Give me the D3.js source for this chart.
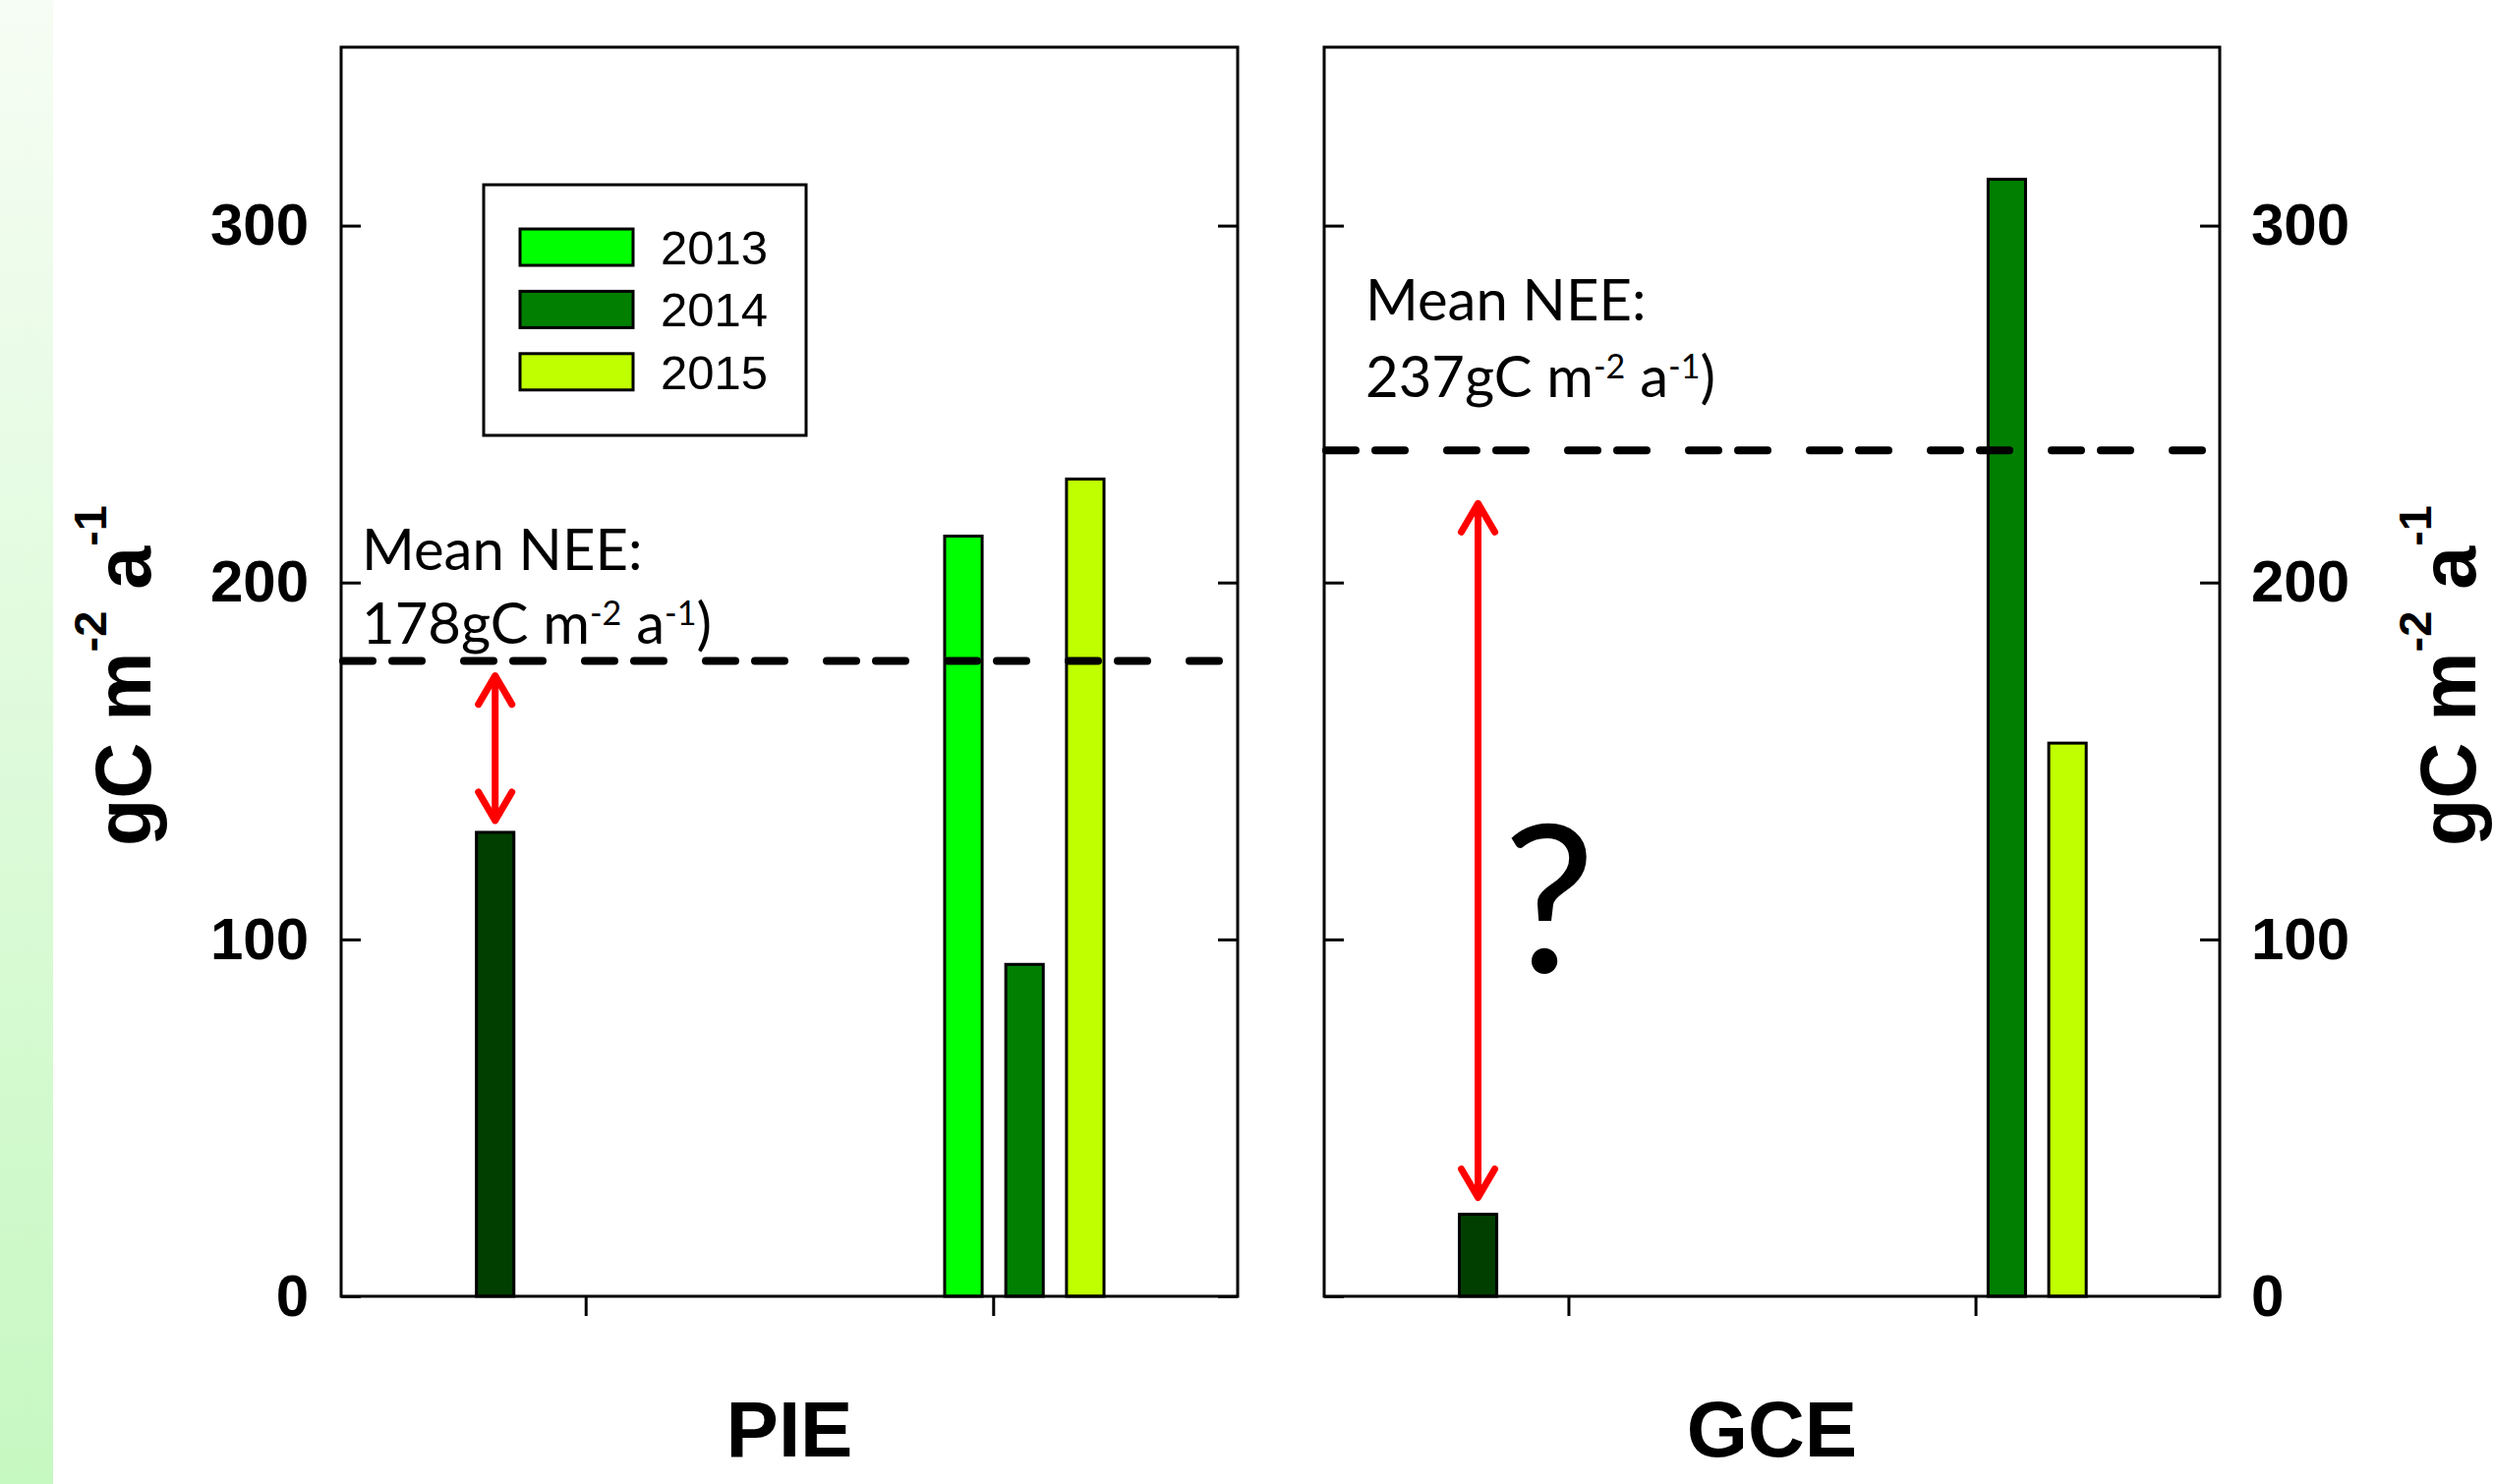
<!DOCTYPE html>
<html><head><meta charset="utf-8">
<script src="https://cdn.jsdelivr.net/npm/d3@7"></script>
<style>html,body{margin:0;padding:0;background:#fff;} svg{display:block;}</style>
</head><body>
<svg id="chart" width="2537" height="1510"></svg>
<script>
// ---- data -------------------------------------------------------------
const sites = ["PIE", "GCE"];
const years = ["2013", "2014", "2015"];
// annual NEE by year for each site (null = no value)
const nee2013 = [213, null];
const nee2014 = [93, 313];
const nee2015 = [229, 155];
// single estimate shown on the left of each panel
const estimate = [130, 23];
// multi-year mean NEE per site
const meanNEE = [178, 237];
const meanLabel = ["178", "237"];
const yTicks = [0, 100, 200, 300];

// ---- styling / layout -------------------------------------------------
const yearColors = ["#00ff00", "#007f00", "#bfff00"];
const estimateColor = "#003f00";
const W = 2537, H = 1510;
const plotTop = 48, plotBottom = 1319;
const panels = [
  {x0: 347, x1: 1259, textX: 368, textY: 580, lineGap: 75, arrowTopGap: 12, arrowBottomGap: 9},
  {x0: 1347, x1: 2258, textX: 1389, textY: 326, lineGap: 78, arrowTopGap: 51, arrowBottomGap: 14}
];
const estimatePos = -0.222;
const yearPos = [0.927, 1.077, 1.226];
const barW = 0.092;

const svg = d3.select("#chart");

// light green strip along the left edge
const defs = svg.append("defs");
const grad = defs.append("linearGradient").attr("id", "strip")
  .attr("x1", 0).attr("y1", 0).attr("x2", 0).attr("y2", 1);
grad.append("stop").attr("offset", "0%").attr("stop-color", "#f6fdf4");
grad.append("stop").attr("offset", "100%").attr("stop-color", "#c6f8c1");
svg.append("rect").attr("x", 0).attr("y", 0).attr("width", 54).attr("height", H)
  .attr("fill", "url(#strip)");

const y = d3.scaleLinear().domain([0, 350]).range([plotBottom, plotTop]);
const yearSeries = [nee2013, nee2014, nee2015];

const tickFont = "'Liberation Sans', Arial, sans-serif";
const noteFont = "Lato, 'Open Sans', sans-serif";

panels.forEach((p, i) => {
  const x = d3.scaleLinear().domain([-0.6, 1.6]).range([p.x0, p.x1]);
  const g = svg.append("g");

  // bars
  const bars = [{v: estimate[i], pos: estimatePos, color: estimateColor}];
  yearSeries.forEach((s, k) => {
    if (s[i] != null) bars.push({v: s[i], pos: yearPos[k], color: yearColors[k]});
  });
  g.selectAll("rect.bar").data(bars).enter().append("rect")
    .attr("class", "bar")
    .attr("x", d => x(d.pos - barW / 2))
    .attr("width", d => x(d.pos + barW / 2) - x(d.pos - barW / 2))
    .attr("y", d => y(d.v))
    .attr("height", d => y(0) - y(d.v))
    .attr("fill", d => d.color)
    .attr("stroke", "#000").attr("stroke-width", 3);

  // mean NEE dashed line
  g.append("line")
    .attr("x1", p.x0 + 2).attr("x2", p.x1 - 4)
    .attr("y1", y(meanNEE[i])).attr("y2", y(meanNEE[i]))
    .attr("stroke", "#000").attr("stroke-width", 8)
    .attr("stroke-linecap", "round")
    .attr("stroke-dasharray", "30,20,30,43");

  // axes
  const left = d3.axisLeft(y).tickValues(yTicks).tickSize(-20).tickPadding(33);
  const right = d3.axisRight(y).tickValues(yTicks).tickSize(-20).tickPadding(32);
  if (i === 0) right.tickFormat(""); else left.tickFormat("");
  const gl = g.append("g").attr("transform", `translate(${p.x0},0)`).call(left);
  const gr = g.append("g").attr("transform", `translate(${p.x1},0)`).call(right);
  const gb = g.append("g").attr("transform", `translate(0,${y(0)})`)
    .call(d3.axisBottom(x).tickValues([0, 1]).tickSize(20).tickFormat(""));
  [gl, gr, gb].forEach(a => {
    a.select(".domain").remove();
    a.selectAll(".tick line").attr("stroke", "#000").attr("stroke-width", 3);
    a.selectAll(".tick text").attr("fill", "#000")
      .style("font-family", tickFont).style("font-weight", "bold").style("font-size", "60px");
  });

  // frame
  g.append("rect").attr("x", p.x0).attr("y", plotTop)
    .attr("width", p.x1 - p.x0).attr("height", plotBottom - plotTop)
    .attr("fill", "none").attr("stroke", "#000").attr("stroke-width", 3);

  // site label
  svg.append("text").attr("x", (p.x0 + p.x1) / 2).attr("y", 1482)
    .attr("text-anchor", "middle")
    .style("font-family", tickFont).style("font-weight", "bold").style("font-size", "80px")
    .text(sites[i]);

  // mean annotation
  const t1 = svg.append("text").attr("x", p.textX).attr("y", p.textY)
    .style("font-family", noteFont).style("font-size", "58px").attr("fill", "#000");
  t1.text("Mean NEE:");
  const t2 = svg.append("text").attr("x", p.textX).attr("y", p.textY + p.lineGap)
    .style("font-family", noteFont).style("font-size", "58px").attr("fill", "#000");
  t2.append("tspan").text(meanLabel[i] + "gC m");
  t2.append("tspan").attr("dy", -19).style("font-size", "34px").text("-2");
  t2.append("tspan").attr("dy", 19).text(" a");
  t2.append("tspan").attr("dy", -19).style("font-size", "34px").text("-1");
  t2.append("tspan").attr("dy", 19).text(")");

  // red double arrow between the estimate bar and the mean
  const cx = x(estimatePos);
  const yTop = y(meanNEE[i]) + p.arrowTopGap;
  const yBot = y(estimate[i]) - p.arrowBottomGap;
  const red = svg.append("g").attr("stroke", "#ff0000").attr("fill", "none")
    .attr("stroke-width", 7);
  red.append("line").attr("x1", cx).attr("x2", cx).attr("y1", yTop + 6).attr("y2", yBot - 6);
  const head = d3.line();
  red.append("path").attr("d", head([[cx - 17, yTop + 32], [cx, yTop + 3], [cx + 17, yTop + 32]]))
    .attr("stroke-linecap", "round").attr("stroke-linejoin", "round");
  red.append("path").attr("d", head([[cx - 17, yBot - 32], [cx, yBot - 3], [cx + 17, yBot - 32]]))
    .attr("stroke-linecap", "round").attr("stroke-linejoin", "round");
});

// question mark in the GCE panel
svg.append("text").attr("x", 1576).attr("y", 989).attr("text-anchor", "middle")
  .style("font-family", noteFont).style("font-size", "210px").text("?");

// y-axis titles on both sides
[153, 2518].forEach(bx => {
  const t = svg.append("text")
    .attr("transform", `translate(${bx},${(plotTop + plotBottom) / 2 + 4}) rotate(-90)`)
    .attr("text-anchor", "middle")
    .style("font-family", tickFont).style("font-weight", "bold").style("font-size", "79px");
  t.append("tspan").text("gC m");
  t.append("tspan").attr("dy", -45).style("font-size", "47px").text("-2");
  t.append("tspan").attr("dy", 45).text(" a");
  t.append("tspan").attr("dy", -45).style("font-size", "47px").text("-1");
});

// legend
const lg = svg.append("g");
lg.append("rect").attr("x", 492).attr("y", 188).attr("width", 328).attr("height", 255)
  .attr("fill", "#fff").attr("stroke", "#000").attr("stroke-width", 3);
years.forEach((yr, k) => {
  const top = 233 + k * 63.4;
  lg.append("rect").attr("x", 529).attr("y", top).attr("width", 115).attr("height", 37)
    .attr("fill", yearColors[k]).attr("stroke", "#000").attr("stroke-width", 3);
  lg.append("text").attr("x", 672).attr("y", top + 36)
    .style("font-family", tickFont).style("font-size", "49px").text(yr);
});
</script>
</body></html>
